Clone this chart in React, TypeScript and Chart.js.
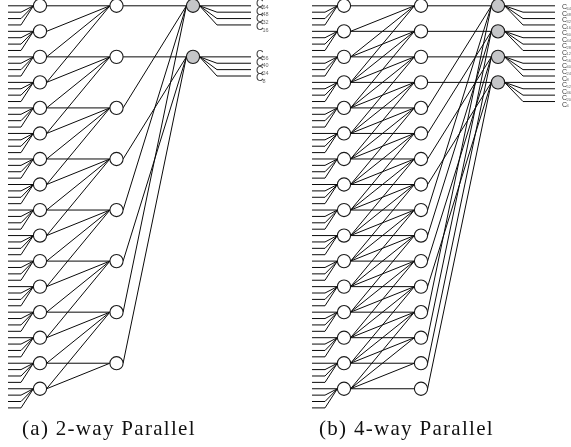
import React, { useEffect, useRef } from "react";
import { Chart, registerables } from "chart.js";

Chart.register(...registerables);

// Row indices of the nodes in each stage
const inputRows = [0, 1, 2, 3, 4, 5, 6, 7, 8, 9, 10, 11, 12, 13, 14, 15];
const twoWayStage2 = [0, 2, 4, 6, 8, 10, 12, 14];
const twoWayStage3 = [0, 2];
const fourWayStage2 = [0, 1, 2, 3, 4, 5, 6, 7, 8, 9, 10, 11, 12, 13, 14, 15];
const fourWayStage3 = [0, 1, 2, 3];

// Links: [row in the earlier stage, row in the later stage]
const twoWayLinks12 = [
  [0, 0], [1, 0], [2, 0], [3, 0],
  [2, 2], [3, 2], [4, 2], [5, 2],
  [4, 4], [5, 4], [6, 4], [7, 4],
  [6, 6], [7, 6], [8, 6], [9, 6],
  [8, 8], [9, 8], [10, 8], [11, 8],
  [10, 10], [11, 10], [12, 10], [13, 10],
  [12, 12], [13, 12], [14, 12], [15, 12],
  [14, 14], [15, 14],
];
const twoWayLinks23 = [
  [0, 0], [4, 0], [8, 0], [12, 0],
  [2, 2], [6, 2], [10, 2], [14, 2],
];
const fourWayLinks12 = [
  [0, 0], [1, 0], [2, 0], [3, 0],
  [1, 1], [2, 1], [3, 1], [4, 1],
  [2, 2], [3, 2], [4, 2], [5, 2],
  [3, 3], [4, 3], [5, 3], [6, 3],
  [4, 4], [5, 4], [6, 4], [7, 4],
  [5, 5], [6, 5], [7, 5], [8, 5],
  [6, 6], [7, 6], [8, 6], [9, 6],
  [7, 7], [8, 7], [9, 7], [10, 7],
  [8, 8], [9, 8], [10, 8], [11, 8],
  [9, 9], [10, 9], [11, 9], [12, 9],
  [10, 10], [11, 10], [12, 10], [13, 10],
  [11, 11], [12, 11], [13, 11], [14, 11],
  [12, 12], [13, 12], [14, 12], [15, 12],
  [13, 13], [14, 13], [15, 13],
  [14, 14], [15, 14],
  [15, 15],
];
const fourWayLinks23 = [
  [0, 0], [4, 0], [8, 0], [12, 0],
  [1, 1], [5, 1], [9, 1], [13, 1],
  [2, 2], [6, 2], [10, 2], [14, 2],
  [3, 3], [7, 3], [11, 3], [15, 3],
];

// Fan lines: offset in rows below the node
const fanOffsets = [0, 0.25, 0.5, 0.75];

const twoWayOutputs = [["64", "48", "32", "16"], ["56", "40", "24", "8"]];
const fourWayOutputs = [
  ["64", "48", "32", "16"],
  ["60", "44", "28", "12"],
  ["56", "40", "24", "8"],
  ["52", "36", "20", "4"],
];
const captions = ["(a) 2-way Parallel", "(b) 4-way Parallel"];

// Panel layout on the x scale (px)
const panelA = { s1: 40, s2: 116.5, s3: 193, inStart: 8, inKink: 21, outKink: 217, outEnd: 251 };
const panelB = { s1: 344, s2: 421, s3: 498, inStart: 312, inKink: 325, outKink: 523, outEnd: 555 };
const R = 6.6;
const ROW = 25.53;
const TOP = 5.8;
const INK = "#0a0a0a";

function line(points: { x: number; y: number }[]) {
  return {
    data: points,
    showLine: true,
    borderColor: INK,
    borderWidth: 1,
    pointRadius: 0,
    pointHoverRadius: 0,
    tension: 0,
    order: 2,
  };
}

function nodes(x: number, rows: number[], fill: string) {
  return {
    data: rows.map((y) => ({ x, y })),
    showLine: false,
    pointRadius: R,
    pointHoverRadius: R,
    pointBackgroundColor: fill,
    pointBorderColor: "#1a1a1a",
    pointBorderWidth: 1.1,
    order: 1,
  };
}

function panelDatasets(
  p: typeof panelA,
  s2: number[],
  s3: number[],
  l12: number[][],
  l23: number[][],
) {
  const out: any[] = [];
  for (const row of inputRows) {
    for (const k of fanOffsets) {
      out.push(
        line([
          { x: p.inStart, y: row + k },
          { x: p.inKink, y: row + k },
          { x: p.s1 - R, y: row },
        ]),
      );
    }
  }
  for (const [a, b] of l12) {
    out.push(line([{ x: p.s1 + R, y: a }, { x: p.s2 - R, y: b }]));
  }
  for (const [a, b] of l23) {
    out.push(line([{ x: p.s2 + R, y: a }, { x: p.s3 - R, y: b }]));
  }
  for (const row of s3) {
    for (const k of fanOffsets) {
      out.push(
        line(
          k === 0
            ? [{ x: p.s3 + R, y: row }, { x: p.outEnd, y: row }]
            : [
                { x: p.s3 + R, y: row },
                { x: p.outKink, y: row + k },
                { x: p.outEnd, y: row + k },
              ],
        ),
      );
    }
  }
  out.push(nodes(p.s1, inputRows, "#ffffff"));
  out.push(nodes(p.s2, s2, "#ffffff"));
  out.push(nodes(p.s3, s3, "#c5c6c8"));
  return out;
}

const textPlugin = {
  id: "diagramText",
  afterDatasetsDraw(chart: any) {
    const { ctx, scales } = chart;
    const xs = scales.x;
    const ys = scales.y;
    ctx.save();
    ctx.textBaseline = "middle";
    ctx.textAlign = "left";

    const drawLabels = (
      groups: string[][],
      rows: number[],
      x: number,
      step: number,
      big: number,
      small: number,
      subDx: number,
      subDy: number,
      flat: boolean,
    ) => {
      let n = 0;
      groups.forEach((group, g) => {
        group.forEach((label, i) => {
          const py = flat
            ? ys.getPixelForValue(0) + 1.4 + n * step
            : ys.getPixelForValue(rows[g]) - 1.6 + i * step;
          n += 1;
          ctx.fillStyle = "#3a3a3a";
          ctx.font = `${big}px "Liberation Sans"`;
          ctx.fillText("C", xs.getPixelForValue(x), py);
          ctx.fillStyle = "#6a6a6a";
          ctx.font = `${small}px "Liberation Sans"`;
          ctx.fillText(label, xs.getPixelForValue(x) + subDx, py + subDy);
        });
      });
    };
    drawLabels(twoWayOutputs, twoWayStage3, 256, 7.7, 10.5, 5.5, 6.5, 2.8, false);
    drawLabels(fourWayOutputs, fourWayStage3, 562, 6.5, 7, 4, 4.5, 1.6, true);

    ctx.fillStyle = "#111111";
    ctx.font = '21px "Liberation Serif"';
    ctx.letterSpacing = "1.3px";
    ctx.textBaseline = "alphabetic";
    ctx.fillText(captions[0], xs.getPixelForValue(22), 435);
    ctx.fillText(captions[1], xs.getPixelForValue(319), 435);
    ctx.letterSpacing = "0px";
    ctx.restore();
  },
};

export default function App() {
  const ref = useRef<HTMLCanvasElement>(null);
  useEffect(() => {
    document.body.style.margin = "0";
    const chart = new Chart(ref.current as HTMLCanvasElement, {
      type: "scatter",
      data: {
        datasets: [
          ...panelDatasets(panelA, twoWayStage2, twoWayStage3, twoWayLinks12, twoWayLinks23),
          ...panelDatasets(panelB, fourWayStage2, fourWayStage3, fourWayLinks12, fourWayLinks23),
        ],
      },
      options: {
        animation: false,
        responsive: false,
        layout: { padding: 0, autoPadding: false },
        clip: false,
        plugins: { legend: { display: false }, tooltip: { enabled: false } },
        events: [],
        scales: {
          x: { type: "linear", display: false, min: 0, max: 571 },
          y: {
            type: "linear",
            display: false,
            reverse: true,
            min: -TOP / ROW,
            max: (447 - TOP) / ROW,
          },
        },
      } as any,
      plugins: [textPlugin],
    });
    return () => chart.destroy();
  }, []);
  return (
    <canvas
      ref={ref}
      width={571}
      height={447}
      style={{ display: "block", width: 571, height: 447 }}
    />
  );
}
